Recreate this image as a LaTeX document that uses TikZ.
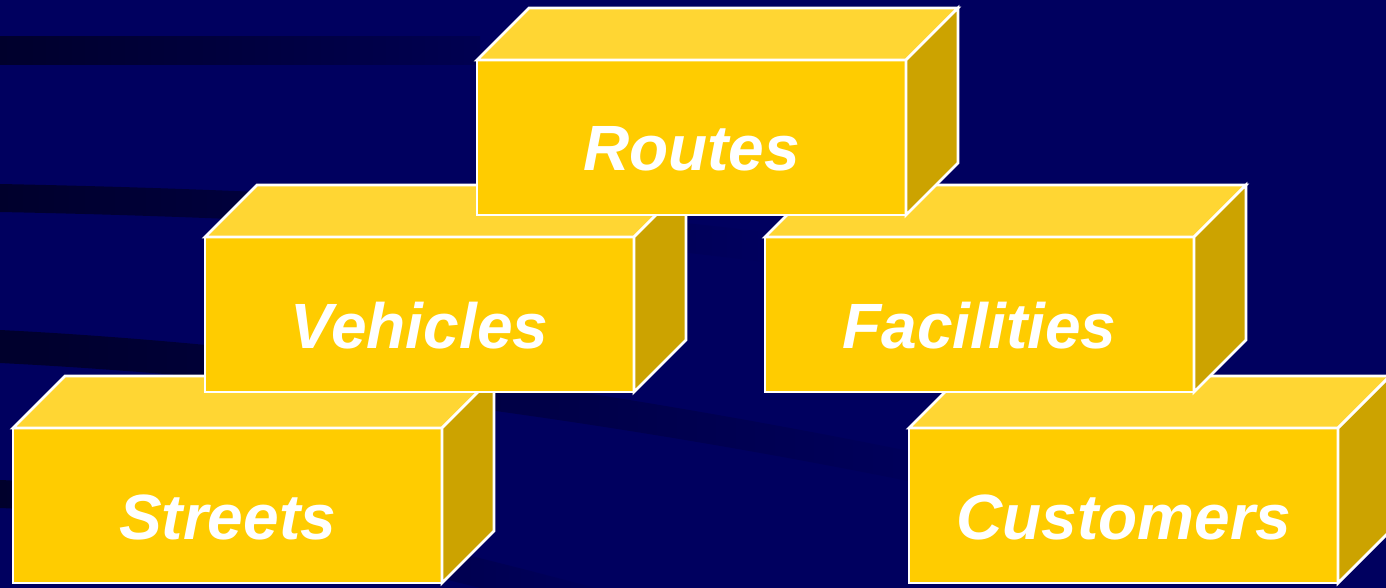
\documentclass[tikz,border=0pt]{standalone}
\usepackage{fontspec}
\setmainfont{Liberation Sans}
\definecolor{navy}{HTML}{00005F}
\definecolor{navydark}{HTML}{00002C}
\definecolor{boxfront}{HTML}{FFCC00}
\definecolor{boxtop}{HTML}{FFD633}
\definecolor{boxside}{HTML}{CCA300}
\tikzset{
    face/.style = {draw=white, line width=2.8pt, line join=miter},
    front/.style = {face, fill=boxfront, inner sep=0pt, outer sep=0pt,
        minimum width=429pt, text height=111pt, text depth=44pt,
        text=white, font=\bfseries\itshape\fontsize{64}{64}\selectfont}
}

\begin{document}
\begin{tikzpicture}[x=1pt, y=-1pt]
    \useasboundingbox (0,0) rectangle (1386,588);
    \fill[navy] (0,0) rectangle (1386,588);
    % dark streaks in the background
    \begin{scope}
        \clip (0,0) rectangle (1386,588);
        \shade[left color=navydark, right color=navy!85!black] (0,37) rectangle (480,65);
        \shade[left color=navydark, right color=navy] (0,184) .. controls (300,190) and (550,205) .. (780,234)
            -- (780,264) .. controls (550,234) and (300,218) .. (0,212) -- cycle;
        \shade[left color=navydark, right color=navy] (0,330) .. controls (300,345) and (650,395) .. (1000,470)
            -- (1000,500) .. controls (650,425) and (300,378) .. (0,363) -- cycle;
        \shade[left color=navydark, right color=navy] (0,480) .. controls (200,488) and (400,535) .. (640,600)
            -- (640,630) .. controls (400,565) and (200,516) .. (0,508) -- cycle;
    \end{scope}
    % blocks, back to front
    \foreach \name/\x/\y/\txt in {streets/13/428/Streets, customers/909/428/Customers,
            vehicles/205/237/Vehicles, facilities/765/237/Facilities, routes/477/60/Routes}{
        \node[front, anchor=north west] (\name) at (\x,\y) {\txt};
        \draw[face, fill=boxtop] (\name.north west) -- ++(52,-52) -- ++(429,0) -- (\name.north east) -- cycle;
        \draw[face, fill=boxside] (\name.north east) -- ++(52,-52) -- ++(0,155) -- (\name.south east) -- cycle;
    }
\end{tikzpicture}
\end{document}
